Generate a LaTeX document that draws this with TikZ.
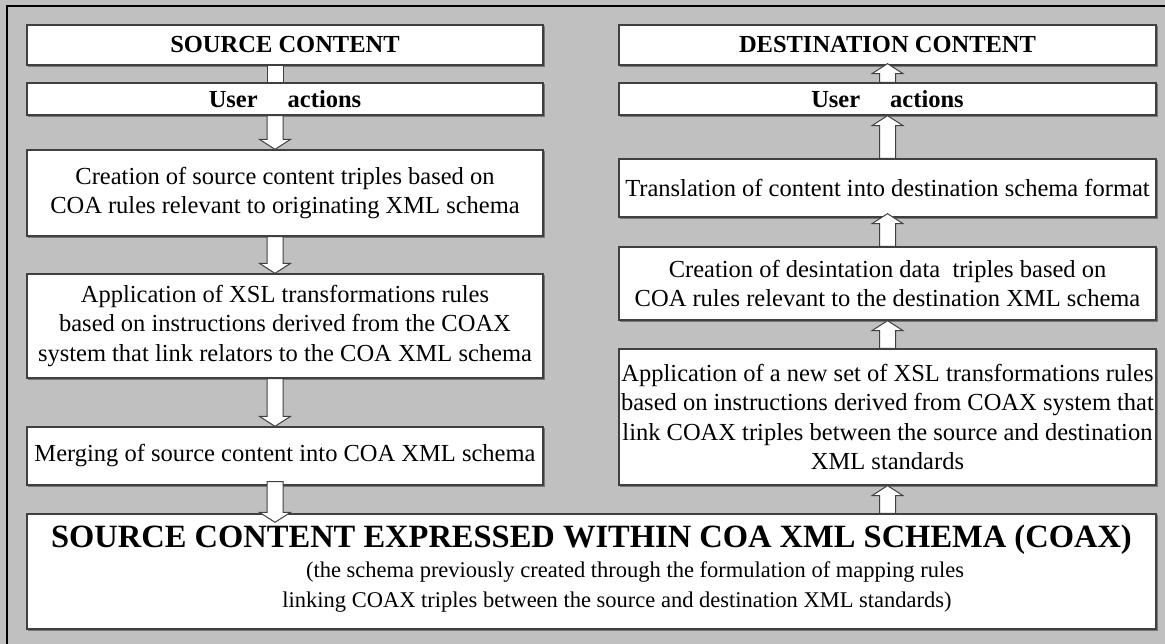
\documentclass[tikz,border=0pt]{standalone}
\usepackage{fontspec}
\setmainfont{Liberation Serif}
\usetikzlibrary{calc}
\definecolor{bg}{RGB}{192,192,192}
\definecolor{edge}{RGB}{64,64,64}
\definecolor{shade}{RGB}{120,120,120}
\newcommand{\bodyfnt}{\fontsize{24.5}{29.5}\selectfont}
\newcommand{\titlefnt}{\fontsize{24.5}{29.5}\selectfont\bfseries}
\newcommand{\mydownarrow}[3]{\draw[barrow] let \p0=(#1), \p1=(#2), \p2=(#3) in
  (\x0-8pt,\y1) -- (\x0-8pt,\y2+10pt) -- (\x0-15.5pt,\y2+10pt) -- (\x0,\y2)
  -- (\x0+15.5pt,\y2+10pt) -- (\x0+8pt,\y2+10pt) -- (\x0+8pt,\y1) -- cycle;}
\newcommand{\myuparrow}[3]{\draw[barrow] let \p0=(#1), \p1=(#2), \p2=(#3) in
  (\x0-8pt,\y1) -- (\x0-8pt,\y2-10pt) -- (\x0-15.5pt,\y2-10pt) -- (\x0,\y2)
  -- (\x0+15.5pt,\y2-10pt) -- (\x0+8pt,\y2-10pt) -- (\x0+8pt,\y1) -- cycle;}
\begin{document}
\begin{tikzpicture}[x=1pt,y=-1pt,
  box/.style={draw=edge, fill=white, line width=1.3pt, inner sep=0pt, align=center, font=\bodyfnt,
    preaction={draw=shade, line width=1.2pt, transform canvas={xshift=1.5pt, yshift=-1.5pt}}},
  tbox/.style={box, font=\titlefnt},
  barrow/.style={draw=edge, fill=white, line width=1pt, line join=miter}]
\useasboundingbox (0,0) rectangle (1165,644);
\fill[bg] (0,0) rectangle (1165,644);
\draw[black, line width=2pt] (7,644) -- (7,6) -- (1165,6);
% left column
\node[tbox, minimum width=516pt, minimum height=40pt] (sc) at (285,45) {SOURCE CONTENT};
\node[tbox, minimum width=516pt, minimum height=32pt] (ua1) at (285,99) {User\hspace{30pt}actions};
\node[box, minimum width=516pt, minimum height=86pt] (c1) at (285,193)
  {Creation of source content triples based on\\COA rules relevant to originating XML schema};
\node[box, minimum width=516pt, minimum height=104pt] (a1) at (285,326)
  {Application of XSL transformations rules\\based on instructions derived from the COAX\\system that link relators to the COA XML schema};
\node[box, minimum width=516pt, minimum height=58pt] (m1) at (285,456)
  {Merging of source content into COA XML schema};
% right column
\node[tbox, minimum width=537pt, minimum height=40pt] (dc) at (887.5,45) {DESTINATION CONTENT};
\node[tbox, minimum width=537pt, minimum height=32pt] (ua2) at (887.5,99) {User\hspace{30pt}actions};
\node[box, minimum width=537pt, minimum height=58pt] (t2) at (887.5,188)
  {Translation of content into destination schema format};
\node[box, minimum width=537pt, minimum height=73pt] (c2) at (887.5,283.5)
  {Creation of desintation data\ \ triples based on\\COA rules relevant to the destination XML schema};
\node[box, minimum width=537pt, minimum height=136pt] (a2) at (887.5,417)
  {Application of a new set of XSL transformations rules\\based on instructions derived from COAX system that\\link COAX triples between the source and destination\\XML standards};
% bottom box
\node[box, minimum width=1129pt, minimum height=115pt] (bot) at (591.5,571.5) {};
\node[font=\fontsize{32.5}{36}\selectfont\bfseries, anchor=base, inner sep=0pt] (bt) at (591.5,547)
  {SOURCE CONTENT EXPRESSED WITHIN COA XML SCHEMA (COAX)};
\node[font=\fontsize{22.5}{27}\selectfont, anchor=base, inner sep=0pt] (bs1) at (635,577)
  {(the schema previously created through the formulation of mapping rules};
\node[font=\fontsize{22.5}{27}\selectfont, anchor=base, inner sep=0pt] (bs2) at (617,607)
  {linking COAX triples between the source and destination XML standards)};
% arrow columns
\coordinate (LX) at (275,0);
\coordinate (RX) at (887.5,0);
% left connectors
\draw[barrow] let \p0=(LX), \p1=(sc.south), \p2=(ua1.north) in (\x0-8pt,\y1) rectangle (\x0+8pt,\y2);
\mydownarrow{LX}{ua1.south}{c1.north}
\mydownarrow{LX}{c1.south}{a1.north}
\mydownarrow{LX}{a1.south}{m1.north}
\mydownarrow{LX}{$(m1.south)+(0,4pt)$}{$(bot.north)+(0,-9pt)$}
% right connectors
\myuparrow{RX}{ua2.north}{$(dc.south)+(0,2pt)$}
\myuparrow{RX}{t2.north}{ua2.south}
\myuparrow{RX}{c2.north}{$(t2.south)+(0,4pt)$}
\myuparrow{RX}{a2.north}{c2.south}
\myuparrow{RX}{bot.north}{a2.south}
\end{tikzpicture}
\end{document}
